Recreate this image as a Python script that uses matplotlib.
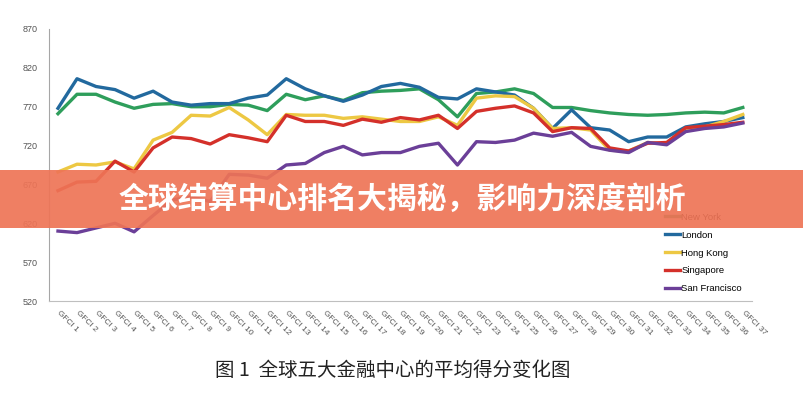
import numpy as np
import matplotlib
matplotlib.use('Agg')
import matplotlib.pyplot as plt
from matplotlib.patches import Rectangle

# GFCI average scores
rounds = ['GFCI %d' % i for i in range(1, 38)]
new_york = [761, 786, 786, 776, 768, 773, 774, 770, 770, 773, 772, 765, 786, 779, 784, 778, 788, 790, 791, 793,
            779, 757, 787, 789, 793, 787, 769, 769, 765, 762, 760, 759, 760, 762, 763, 762, 769]
london = [768, 806, 796, 792, 781, 790, 776, 772, 774, 774, 781, 785, 806, 793, 784, 777, 785, 796, 800, 795,
          782, 780, 793, 789, 785, 768, 742, 766, 743, 740, 725, 731, 731, 744, 748, 751, 756]
hong_kong = [686, 696, 695, 699, 690, 727, 737, 759, 758, 769, 753, 734, 760, 759, 759, 755, 757, 754, 751, 751,
             757, 746, 781, 784, 783, 768, 742, 743, 740, 714, 713, 724, 722, 742, 744, 751, 760]
singapore = [662, 673, 674, 700, 686, 717, 731, 729, 722, 734, 730, 725, 759, 751, 751, 746, 754, 750, 756, 753,
             759, 742, 764, 768, 771, 762, 738, 743, 742, 717, 713, 723, 724, 743, 745, 747, 750]
san_francisco = [610, 608, 614, 620, 609, 630, 650, 654, 648, 683, 682, 678, 695, 697, 711, 719, 708, 711, 711, 719,
                 723, 695, 725, 724, 727, 736, 732, 737, 719, 714, 711, 724, 721, 738, 742, 744, 749]

series = [('New York', new_york, '#2E9E5B'),
          ('London', london, '#22699E'),
          ('Hong Kong', hong_kong, '#EDC843'),
          ('Singapore', singapore, '#D4302A'),
          ('San Francisco', san_francisco, '#6B3F98')]

plt.rcParams['font.family'] = ['Liberation Sans', 'DejaVu Sans']

fig = plt.figure(figsize=(8.04, 4.0), dpi=100)
ax = fig.add_axes([0.061, 0.2475, 0.874, 0.68])

x = np.arange(1, len(rounds) + 1)
for name, vals, col in series:
    ax.plot(x, vals, color=col, linewidth=2.4, label=name, solid_joinstyle='round')

ax.set_xlim(0.53, 37.47)
ax.set_ylim(520, 870)
ax.set_yticks(np.arange(520, 871, 50))
ax.set_xticks(x)
ax.set_xticklabels(rounds, rotation=-45, ha='left', va='center', rotation_mode='anchor')
ax.tick_params(axis='x', length=0, pad=8, labelsize=6, labelcolor='#555555')
ax.tick_params(axis='y', length=0, pad=8, labelsize=6.5, labelcolor='#555555')
for s in ['top', 'right']:
    ax.spines[s].set_visible(False)
ax.spines['left'].set_color('#A6A6A6')
ax.spines['bottom'].set_color('#BFBFBF')

fig.legend(loc='upper left', bbox_to_anchor=(0.822, 0.478), frameon=False, fontsize=6.8,
           handlelength=1.6, handletextpad=0.15, labelspacing=0.95, borderaxespad=0)

# banner over the middle of the picture
fig.patches.append(Rectangle((0, 0.43), 1, 0.145, transform=fig.transFigure,
                             facecolor='#EE7456', alpha=0.92, edgecolor='none', zorder=10))
fig.text(0.5, 0.502, '全球结算中心排名大揭秘，影响力深度剖析', ha='center', va='center',
         color='white', fontsize=21.5, fontweight='bold',
         family=['Noto Sans CJK SC', 'DejaVu Sans'], zorder=11)

fig.text(0.489, 0.075, '图 1  全球五大金融中心的平均得分变化图', ha='center', va='center',
         color='#222222', fontsize=14, family=['Noto Sans CJK SC', 'DejaVu Sans'])

fig.savefig('out.png', dpi=100)
